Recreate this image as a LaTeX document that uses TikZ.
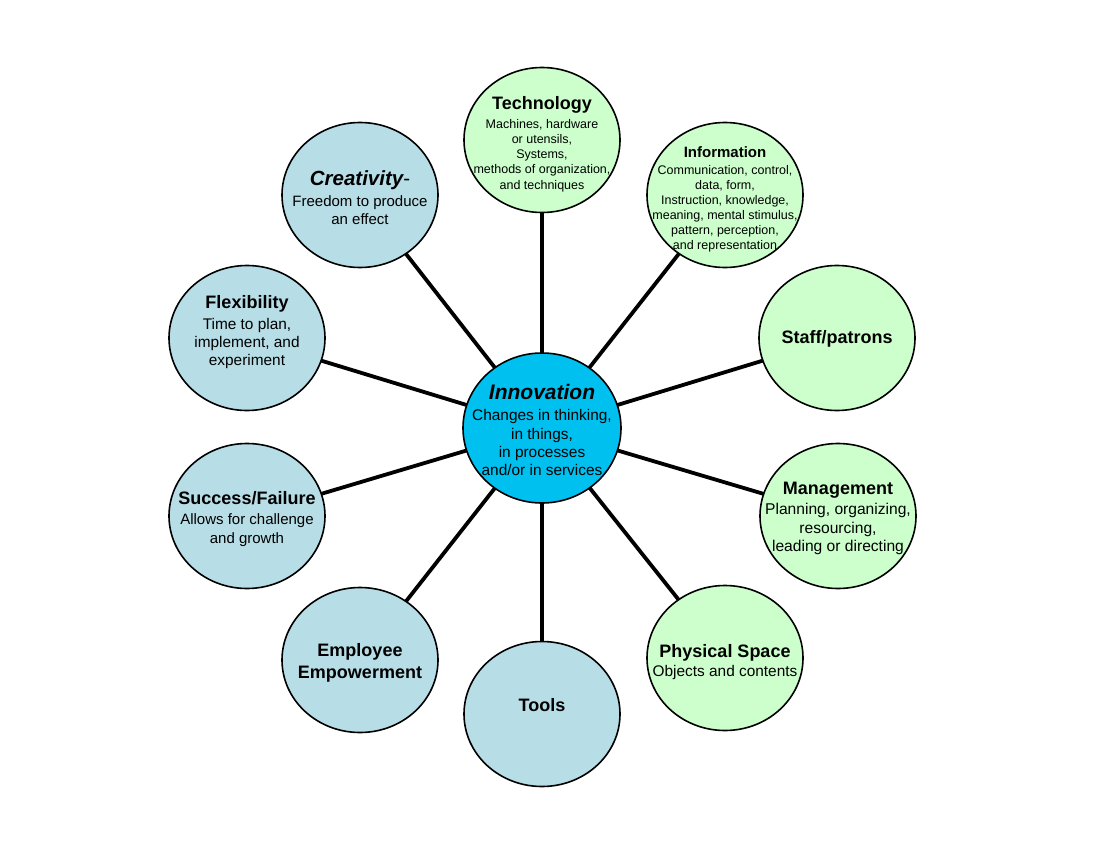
\documentclass[tikz,border=0pt]{standalone}
\usepackage{fontspec}
\setmainfont{Liberation Sans}
\usetikzlibrary{shapes.geometric}
\definecolor{satgreen}{RGB}{204,255,204}
\definecolor{satblue}{RGB}{183,221,230}
\definecolor{corecyan}{RGB}{0,192,240}
\newcommand{\fs}[2]{\fontsize{#1}{#2}\selectfont}
\tikzset{
  sat/.style={ellipse, draw=black, line width=1.6pt, minimum width=156pt, minimum height=145pt, inner sep=0pt, outer sep=0pt},
  greensat/.style={sat, fill=satgreen},
  bluesat/.style={sat, fill=satblue},
  core/.style={ellipse, draw=black, line width=1.6pt, fill=corecyan, minimum width=158pt, minimum height=150pt, inner sep=0pt, outer sep=0pt},
  txt/.style={align=center, inner sep=0pt, text=black},
  spoke/.style={line width=3.8pt, black},
}
\begin{document}
\begin{tikzpicture}[x=1pt, y=-1pt]
\useasboundingbox[fill=white] (0,0) rectangle (1101,851);
% circles
\node[core] (inno) at (542,428) {};
\node[greensat] (tech) at (542,140) {};
\node[greensat] (info) at (725,195) {};
\node[greensat] (staff) at (837,338) {};
\node[greensat] (mgmt) at (838,516) {};
\node[greensat] (phys) at (725,658) {};
\node[bluesat] (tools) at (542,714) {};
\node[bluesat] (empl) at (360,660) {};
\node[bluesat] (succ) at (247,516) {};
\node[bluesat] (flex) at (247,338) {};
\node[bluesat] (crea) at (360,195) {};
% spokes
\foreach \n in {tech,info,staff,mgmt,phys,tools,empl,succ,flex,crea}
  \draw[spoke] (inno) -- (\n);
% texts
\node[txt, anchor=north, font=\fs{15.4}{18.3}] (inno-t) at (542,384.2)
  {{\fs{21}{22}\bfseries\itshape Innovation}\\[3pt]Changes in thinking,\\in things,\\in processes\\and/or in services};
\node[txt, anchor=north, font=\fs{12.5}{15.2}] (tech-t) at (542,96.3)
  {{\fs{18}{20}\bfseries Technology}\\[3.5pt]Machines, hardware\\or utensils,\\Systems,\\methods of organization,\\and techniques};
\node[txt, anchor=north, font=\fs{12.5}{15}] (info-t) at (725,146.5)
  {{\fs{15}{17}\bfseries Information}\\[2pt]Communication, control,\\data, form,\\Instruction, knowledge,\\meaning, mental stimulus,\\pattern, perception,\\and representation};
\node[txt, font=\fs{18}{20}\bfseries] (staff-t) at (837,339) {Staff/patrons};
\node[txt, anchor=north, font=\fs{15.6}{18.5}] (mgmt-t) at (838,482.4)
  {{\fs{18}{20}\bfseries Management}\\[1.5pt]Planning, organizing,\\resourcing,\\leading or directing};
\node[txt, anchor=north, font=\fs{15.4}{19}] (phys-t) at (725,644.4)
  {{\fs{18}{20}\bfseries Physical Space}\\Objects and contents};
\node[txt, font=\fs{18}{20}\bfseries] (tools-t) at (542,705) {Tools};
\node[txt, anchor=north, font=\fs{18}{22}\bfseries] (empl-t) at (360,643.4)
  {Employee\\Empowerment};
\node[txt, anchor=north, font=\fs{15}{19}] (succ-t) at (247,491.4)
  {{\fs{18}{20}\bfseries Success/Failure}\\[1pt]Allows for challenge\\and growth};
\node[txt, anchor=north, font=\fs{15.4}{18}] (flex-t) at (247,295.4)
  {{\fs{18}{20}\bfseries Flexibility}\\[3pt]Time to plan,\\implement, and\\experiment};
\node[txt, anchor=north, font=\fs{15}{18}] (crea-t) at (360,170.4)
  {{\fs{20.5}{22}\bfseries\itshape Creativity}{\fs{20.5}{22}-}\\[3pt]Freedom to produce\\an effect};
\end{tikzpicture}
\end{document}
